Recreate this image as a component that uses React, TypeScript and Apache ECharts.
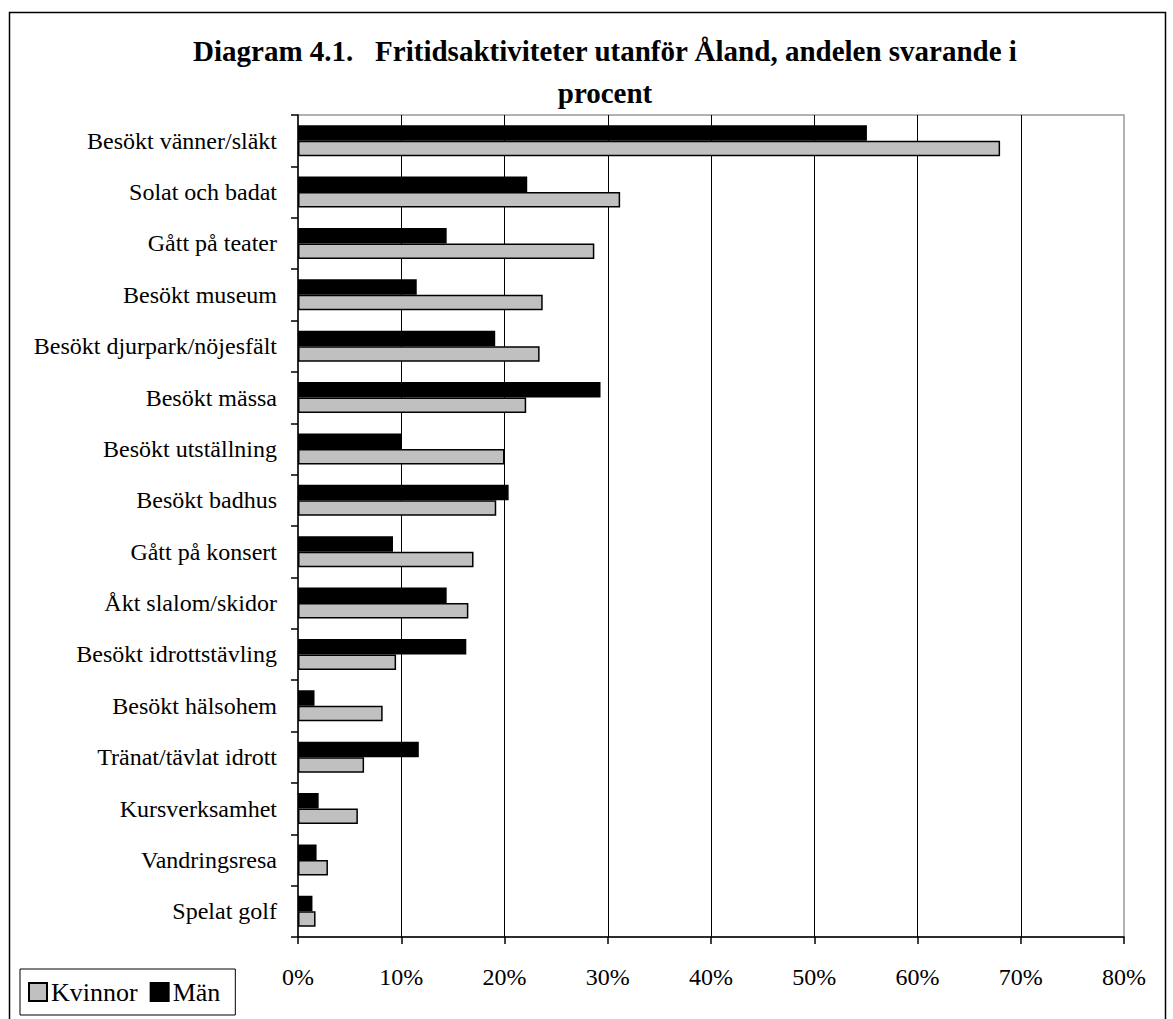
import React, { useEffect, useRef } from "react";
import * as echarts from "echarts";

const categories = [
  "Besökt vänner/släkt",
  "Solat och badat",
  "Gått på teater",
  "Besökt museum",
  "Besökt djurpark/nöjesfält",
  "Besökt mässa",
  "Besökt utställning",
  "Besökt badhus",
  "Gått på konsert",
  "Åkt slalom/skidor",
  "Besökt idrottstävling",
  "Besökt hälsohem",
  "Tränat/tävlat idrott",
  "Kursverksamhet",
  "Vandringsresa",
  "Spelat golf",
];
const kvinnor = [68.0, 31.2, 28.7, 23.7, 23.4, 22.1, 20.0, 19.2, 17.0, 16.5, 9.5, 8.2, 6.4, 5.8, 2.9, 1.7];
const man = [55.1, 22.2, 14.4, 11.5, 19.1, 29.3, 10.0, 20.4, 9.2, 14.4, 16.3, 1.6, 11.7, 2.0, 1.8, 1.4];
const xMin = 0;
const xMax = 80;
const xStep = 10;
const titleLines = ["Diagram 4.1.   Fritidsaktiviteter utanför Åland, andelen svarande i", "procent"];

const FONT = "'Liberation Serif', 'Times New Roman', serif";

export default function App() {
  const ref = useRef<HTMLDivElement>(null);
  useEffect(() => {
    if (!ref.current) return;
    const chart = echarts.init(ref.current, undefined, { renderer: "svg" });
    chart.setOption({
      animation: false,
      backgroundColor: "#fff",
      title: {
        text: titleLines.join("\n"),
        left: 600,
        top: 25,
        textAlign: "center",
        textStyle: {
          fontFamily: FONT,
          fontWeight: "bold",
          fontSize: 29,
          lineHeight: 42,
          color: "#000",
        },
      },
      graphic: [
        {
          type: "rect",
          shape: { x: 9.5, y: 12.5, width: 1156, height: 1100 },
          style: { fill: "none", stroke: "#000", lineWidth: 1.5 },
          silent: true,
          z: -1,
        },
      ],
      legend: {
        data: ["Kvinnor", "Män"],
        left: 20,
        top: 969,
        orient: "horizontal",
        backgroundColor: "#fff",
        borderColor: "#000",
        borderWidth: 1,
        borderRadius: 0,
        padding: [10, 15, 10, 8],
        itemWidth: 18,
        itemHeight: 18,
        itemGap: 12,
        icon: "rect",
        textStyle: { fontFamily: FONT, fontSize: 26, color: "#000", padding: [0, 0, 0, -1] },
      },
      grid: {
        left: 298,
        top: 115,
        width: 826,
        height: 822,
        show: true,
        borderColor: "#999",
        borderWidth: 1.5,
        backgroundColor: "transparent",
      },
      xAxis: {
        type: "value",
        min: xMin,
        max: xMax,
        interval: xStep,
        axisLine: { show: true, lineStyle: { color: "#000", width: 1.5 } },
        axisTick: { show: true, length: 7, lineStyle: { color: "#000", width: 1.5 } },
        axisLabel: {
          formatter: "{value}%",
          fontFamily: FONT,
          fontSize: 24,
          color: "#000",
          margin: 28,
        },
        splitLine: {
          show: true,
          showMinLine: false,
          showMaxLine: false,
          lineStyle: { color: "#000", width: 1 },
        },
      },
      yAxis: {
        type: "category",
        data: categories,
        inverse: true,
        axisLine: { show: true, lineStyle: { color: "#000", width: 1.5 } },
        axisTick: { show: true, length: 7, lineStyle: { color: "#000", width: 1.5 } },
        axisLabel: {
          fontFamily: FONT,
          fontSize: 24,
          color: "#000",
          margin: 21,
        },
        splitLine: { show: false },
      },
      series: [
        {
          name: "Män",
          type: "bar",
          data: man,
          barWidth: 15.5,
          barGap: "0%",
          itemStyle: { color: "#000", borderColor: "#000", borderWidth: 1.5 },
        },
        {
          name: "Kvinnor",
          type: "bar",
          data: kvinnor,
          barWidth: 15.5,
          barGap: "0%",
          itemStyle: { color: "#c0c0c0", borderColor: "#000", borderWidth: 1.5 },
        },
      ],
    });
    return () => chart.dispose();
  }, []);
  return (
    <div
      ref={ref}
      style={{ position: "absolute", left: 0, top: 0, width: 1173, height: 1019, background: "#fff" }}
    />
  );
}
